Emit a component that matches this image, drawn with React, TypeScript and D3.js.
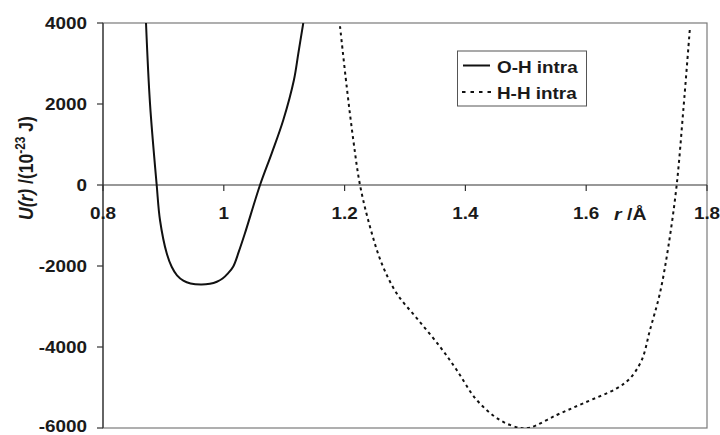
import React from "react";
import * as d3 from "d3";

const xTicks = [0.8, 1.0, 1.2, 1.4, 1.6, 1.8];
const xTickLabels = ["0.8", "1", "1.2", "1.4", "1.6", "1.8"];
const yTicks = [4000, 2000, 0, -2000, -4000, -6000];

const ohR = [0.8712, 0.8778, 0.8889, 0.8944, 0.9055, 0.9137, 0.9225, 0.933, 0.945, 0.962, 0.977, 0.9885, 0.998, 1.0065, 1.0157, 1.025, 1.035, 1.06, 1.0793, 1.0985, 1.1161, 1.1234, 1.1316];
const ohU = [4000, 2017, 0, -870, -1687, -2017, -2230, -2360, -2430, -2458, -2440, -2390, -2310, -2190, -2010, -1640, -1193, 0, 782, 1605, 2593, 3252, 4000];

const hhR = [1.1924, 1.2035, 1.2144, 1.2255, 1.242, 1.2614, 1.2862, 1.322, 1.358, 1.3856, 1.4187, 1.457, 1.4904, 1.507, 1.5512, 1.595, 1.6505, 1.6725, 1.692, 1.7056, 1.722, 1.736, 1.7498, 1.7608, 1.7719];
const hhU = [3920, 2427, 1111, 0, -1029, -1934, -2675, -3333, -3993, -4568, -5309, -5802, -6000, -5990, -5679, -5391, -5021, -4774, -4321, -3580, -2675, -1523, 0, 1852, 3910];

const seriesNames = ["O-H intra", "H-H intra"];

const W = 720, H = 435;
const L = 103, R = 707, T = 23, B = 428;
const SX = 1.18;
const FONT = "'Liberation Sans', Arial, sans-serif";

function Txt({ x, y, anchor = "start", size = 16, children }: any) {
  return (
    <text
      transform={`translate(${x},${y}) scale(${SX},1)`}
      textAnchor={anchor}
      fontSize={size}
      fontWeight="bold"
      fontFamily={FONT}
      fill="#1a1a1a"
    >
      {children}
    </text>
  );
}

export default function App() {
  const x = d3.scaleLinear().domain([0.8, 1.8]).range([L, R]);
  const y = d3.scaleLinear().domain([-6000, 4000]).range([B, T]);
  const line = d3
    .line<[number, number]>()
    .x((d) => x(d[0]))
    .y((d) => y(d[1]))
    .curve(d3.curveCatmullRom.alpha(0.5));
  const oh: [number, number][] = ohR.map((r, i) => [r, ohU[i]]);
  const hh: [number, number][] = hhR.map((r, i) => [r, hhU[i]]);
  const y0 = y(0);

  return (
    <svg width={W} height={H} style={{ position: "absolute", left: 0, top: 0 }}>
      <rect x={0} y={0} width={W} height={H} fill="#fff" />
      <defs>
        <clipPath id="plot">
          <rect x={L} y={T} width={R - L} height={B - T} />
        </clipPath>
      </defs>
      <rect x={L} y={T} width={R - L} height={B - T} fill="none" stroke="#7a7a7a" strokeWidth={1.2} />
      <line x1={L} x2={L} y1={T} y2={B} stroke="#333" strokeWidth={1.2} />
      {yTicks.map((t) => (
        <g key={t}>
          <line x1={L - 6} x2={L} y1={y(t)} y2={y(t)} stroke="#333" strokeWidth={1.2} />
          <Txt x={L - 16} y={Math.min(y(t) + 5.8, 432)} anchor="end">{String(t)}</Txt>
        </g>
      ))}
      <line x1={L} x2={R} y1={y0} y2={y0} stroke="#333" strokeWidth={1.2} />
      {xTicks.map((t, i) => (
        <g key={t}>
          <line x1={x(t)} x2={x(t)} y1={y0} y2={y0 + 6} stroke="#333" strokeWidth={1.2} />
          <Txt x={x(t)} y={219} anchor="middle">{xTickLabels[i]}</Txt>
        </g>
      ))}
      <g clipPath="url(#plot)">
        <path d={line(oh) || ""} fill="none" stroke="#111" strokeWidth={2} />
        <path d={line(hh) || ""} fill="none" stroke="#111" strokeWidth={2} strokeDasharray="3,3.5" />
      </g>
      <text
        transform={`translate(614,220) scale(${SX},1)`}
        fontSize={16.5}
        fontWeight="bold"
        fontFamily={FONT}
        fill="#1a1a1a"
      >
        <tspan fontStyle="italic">r</tspan>
        <tspan> /Å</tspan>
      </text>
      <text
        transform={`translate(33,168) scale(${SX},1) rotate(-90)`}
        textAnchor="middle"
        fontSize={17.5}
        fontWeight="bold"
        fontFamily={FONT}
        fill="#1a1a1a"
      >
        <tspan fontStyle="italic">U(r)</tspan>
        <tspan> /(10</tspan>
        <tspan fontSize={12} dy={-7}>-23</tspan>
        <tspan dy={7}> J)</tspan>
      </text>
      <rect x={457.5} y={51} width={129} height={55} fill="#fff" stroke="#555" strokeWidth={1} />
      <line x1={463} x2={490} y1={65.5} y2={65.5} stroke="#111" strokeWidth={2} />
      <line x1={462} x2={491} y1={92} y2={92} stroke="#111" strokeWidth={2} strokeDasharray="3.5,5" />
      <Txt x={497} y={73.3}>{seriesNames[0]}</Txt>
      <Txt x={497} y={99.3}>{seriesNames[1]}</Txt>
    </svg>
  );
}
